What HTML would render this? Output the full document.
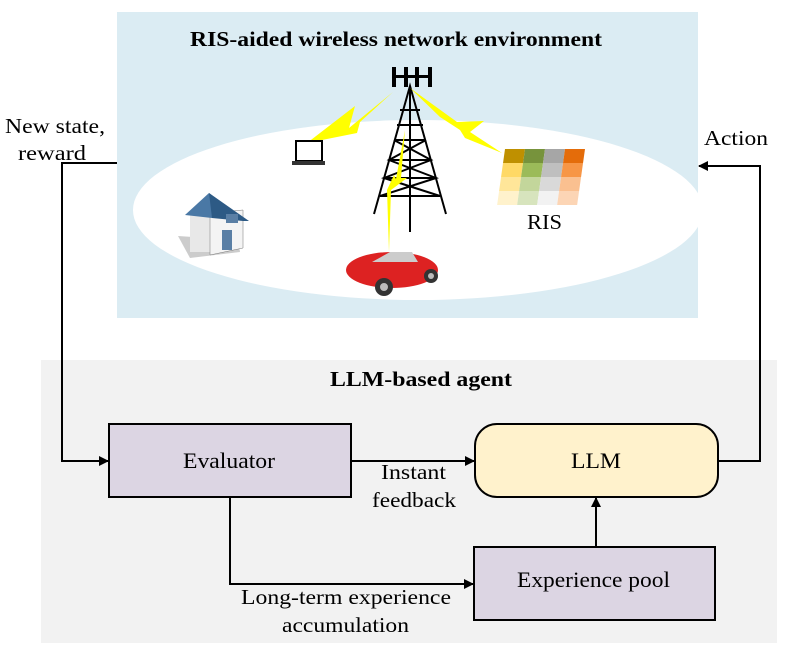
<!DOCTYPE html>
<html><head><meta charset="utf-8"><style>
html,body{margin:0;padding:0;background:#fff;}
svg{display:block;font-family:"Liberation Serif",serif;}
</style></head><body>
<svg width="789" height="656" viewBox="0 0 789 656" xmlns="http://www.w3.org/2000/svg">
<defs>
<marker id="ar" markerWidth="10" markerHeight="10" refX="9" refY="5" orient="auto" markerUnits="userSpaceOnUse">
<path d="M0,0 L10,5 L0,10 z" fill="#000"/></marker>
</defs>
<rect x="117" y="12" width="581" height="306" fill="#dbecf3"/>
<ellipse cx="418" cy="210" rx="285" ry="90" fill="#fff"/>
<text x="190" y="46" font-size="21" font-weight="bold" textLength="412" lengthAdjust="spacingAndGlyphs">RIS-aided wireless network environment</text>
<rect x="41" y="360" width="736" height="283" fill="#f2f2f2"/>
<text x="330" y="386" font-size="21" font-weight="bold" textLength="182" lengthAdjust="spacingAndGlyphs">LLM-based agent</text>
<!-- tower -->
<g stroke="#000" stroke-width="2" fill="none">
<path d="M374,214 L410,86 L446,214"/>
<path d="M410,86 L410,232"/>
<path d="M394,140 L426,140 M389,160 L431,160 M384,178 L436,178 M380,196 L440,196"/>
<path d="M394,140 L431,160 L384,178 L440,196 M426,140 L389,160 L436,178 L380,196"/>
<path d="M400,110 L420,110 M397,125 L423,125"/>
</g>
<g fill="#000"><rect x="392" y="67" width="4" height="20"/><rect x="404" y="67" width="4" height="20"/><rect x="415" y="67" width="4" height="20"/><rect x="428" y="67" width="4" height="20"/><rect x="392" y="75" width="40" height="3"/></g>
<!-- lightning -->
<g fill="#ffff00">
<polygon points="307,143 355,106 349,128 393,92 360,122 357,133"/>
<polygon points="410,88 457,122 484,121 470,132 502,153 465,138 460,130 440,117"/>
<polygon points="405,130 401,178 407,178 391,190 389,252 387,190 394,175 396,179"/>
</g>
<!-- laptop -->
<rect x="296" y="141" width="26" height="20" fill="#fff" stroke="#000" stroke-width="2"/>
<rect x="292" y="161" width="33" height="4" fill="#333"/>
<!-- RIS -->
<g transform="translate(503,149) skewX(-8)">
<rect x="2" y="0" width="20" height="14" fill="#bf9000"/><rect x="22" y="0" width="20" height="14" fill="#77933c"/><rect x="42" y="0" width="20" height="14" fill="#a6a6a6"/><rect x="62" y="0" width="20" height="14" fill="#e46c0a"/>
<rect x="2" y="14" width="20" height="14" fill="#ffd966"/><rect x="22" y="14" width="20" height="14" fill="#9bbb59"/><rect x="42" y="14" width="20" height="14" fill="#bfbfbf"/><rect x="62" y="14" width="20" height="14" fill="#f79646"/>
<rect x="2" y="28" width="20" height="14" fill="#ffe699"/><rect x="22" y="28" width="20" height="14" fill="#c3d69b"/><rect x="42" y="28" width="20" height="14" fill="#d9d9d9"/><rect x="62" y="28" width="20" height="14" fill="#fac090"/>
<rect x="2" y="42" width="20" height="14" fill="#fff2cc"/><rect x="22" y="42" width="20" height="14" fill="#d7e4bd"/><rect x="42" y="42" width="20" height="14" fill="#f2f2f2"/><rect x="62" y="42" width="20" height="14" fill="#fcd5b5"/>
</g>
<text x="527" y="229" font-size="21" textLength="35" lengthAdjust="spacingAndGlyphs">RIS</text>
<!-- house -->
<polygon points="178,236 190,258 240,252 238,240" fill="#ccc"/>
<rect x="190" y="214" width="20" height="38" fill="#e8e8e8"/>
<polygon points="210,213 243,210 243,248 210,255" fill="#f4f4f4" stroke="#777" stroke-width="0.5"/>
<polygon points="185,215 209,193 232,210 212,218" fill="#4a78a5"/>
<polygon points="209,193 249,221 243,221 212,218" fill="#2d5a85"/>
<rect x="222" y="230" width="10" height="20" fill="#5a7fa5"/>
<rect x="226" y="214" width="12" height="9" fill="#5a7fa5"/>
<!-- car -->
<ellipse cx="392" cy="270" rx="46" ry="18" fill="#d22"/>
<path d="M372,262 L390,252 L412,252 L418,262 z" fill="#ccc"/>
<circle cx="384" cy="287" r="9" fill="#333"/><circle cx="431" cy="276" r="7" fill="#333"/>
<circle cx="384" cy="287" r="4" fill="#bbb"/><circle cx="431" cy="276" r="3" fill="#bbb"/>
<!-- boxes -->
<rect x="109" y="424" width="242" height="73" fill="#dcd5e3" stroke="#000" stroke-width="2"/>
<text x="183" y="468" font-size="22" textLength="92" lengthAdjust="spacingAndGlyphs">Evaluator</text>
<rect x="475" y="424" width="243" height="73" rx="22" fill="#fff2cc" stroke="#000" stroke-width="2"/>
<text x="571" y="468" font-size="22" textLength="50" lengthAdjust="spacingAndGlyphs">LLM</text>
<rect x="474" y="547" width="241" height="73" fill="#dcd5e3" stroke="#000" stroke-width="2"/>
<text x="517" y="587" font-size="22" textLength="153" lengthAdjust="spacingAndGlyphs">Experience pool</text>
<!-- connectors -->
<g stroke="#000" stroke-width="2" fill="none">
<path d="M117,163 L62,163 L62,461 L108,461" marker-end="url(#ar)"/>
<path d="M351,461 L474,461" marker-end="url(#ar)"/>
<path d="M230,497 L230,584 L473,584" marker-end="url(#ar)"/>
<path d="M596,547 L596,498" marker-end="url(#ar)"/>
<path d="M718,461 L760,461 L760,166 L699,166" marker-end="url(#ar)"/>
</g>
<g font-size="21">
<text x="5" y="133" textLength="100" lengthAdjust="spacingAndGlyphs">New state,</text>
<text x="18" y="160" textLength="68" lengthAdjust="spacingAndGlyphs">reward</text>
<text x="704" y="145" textLength="64" lengthAdjust="spacingAndGlyphs">Action</text>
<text x="381" y="479" textLength="65" lengthAdjust="spacingAndGlyphs">Instant</text>
<text x="372" y="507" textLength="84" lengthAdjust="spacingAndGlyphs">feedback</text>
<text x="241" y="604" textLength="210" lengthAdjust="spacingAndGlyphs">Long-term experience</text>
<text x="282" y="632" textLength="127" lengthAdjust="spacingAndGlyphs">accumulation</text>
</g>
</svg>
</body></html>
